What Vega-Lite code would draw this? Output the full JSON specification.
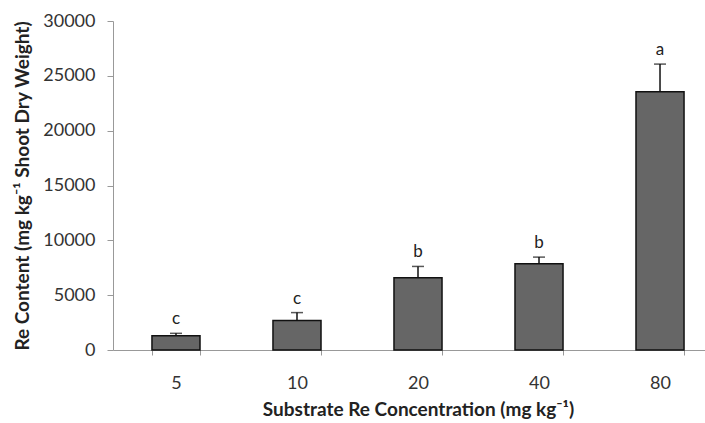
{
  "$schema": "https://vega.github.io/schema/vega-lite/v6.json",
  "autosize": "none",
  "width": 590,
  "height": 329,
  "padding": {"left": 113, "top": 21, "right": 2, "bottom": 73},
  "background": "white",
  "data": {
    "values": [
      {"conc": "5", "value": 1310, "upper": 1520, "letter": "c"},
      {"conc": "10", "value": 2680, "upper": 3410, "letter": "c"},
      {"conc": "20", "value": 6590, "upper": 7620, "letter": "b"},
      {"conc": "40", "value": 7870, "upper": 8470, "letter": "b"},
      {"conc": "80", "value": 23560, "upper": 26070, "letter": "a"}
    ]
  },
  "config": {
    "view": {"stroke": null},
    "font": "Lato",
    "axis": {"grid": false, "domainColor": "#999", "tickColor": "#999", "labelColor": "#333", "titleColor": "#222", "labelFont": "Lato", "titleFont": "Lato"}
  },
  "encoding": {
    "x": {
      "field": "conc", "type": "nominal", "sort": ["5", "10", "20", "40", "80"],
      "scale": {"paddingInner": 0.603, "paddingOuter": 0.322, "range": [0, 610]},
      "axis": {"labelAngle": 0, "labelFontSize": 18, "labelPadding": 19, "tickBand": "extent", "ticks": true, "tickSize": 5,
        "title": "Substrate Re Concentration (mg kg⁻¹)", "titleFontSize": 19, "titleFontWeight": "bold", "titlePadding": 8, "titleX": 305}
    }
  },
  "layer": [
    {
      "mark": {"type": "bar", "fill": "#666", "stroke": "#111", "strokeWidth": 1.5},
      "encoding": {
        "y": {"field": "value", "type": "quantitative",
          "scale": {"domain": [0, 30000]},
          "axis": {"values": [0, 5000, 10000, 15000, 20000, 25000, 30000], "format": "d", "labelFontSize": 18, "tickSize": 6, "labelPadding": 12,
            "title": "Re Content (mg kg⁻¹ Shoot Dry Weight)", "titleFontSize": 19, "titleFontWeight": "bold", "titlePadding": 10}}
      }
    },
    {
      "mark": {"type": "rule", "color": "#111", "strokeWidth": 1.5},
      "encoding": {
        "y": {"field": "value", "type": "quantitative"},
        "y2": {"field": "upper"}
      }
    },
    {
      "mark": {"type": "tick", "color": "#111", "thickness": 1.5, "size": 12, "orient": "horizontal"},
      "encoding": {
        "y": {"field": "upper", "type": "quantitative"}
      }
    },
    {
      "mark": {"type": "text", "baseline": "bottom", "dy": -5, "fontSize": 17, "color": "#222"},
      "encoding": {
        "y": {"field": "upper", "type": "quantitative"},
        "text": {"field": "letter"}
      }
    }
  ]
}
